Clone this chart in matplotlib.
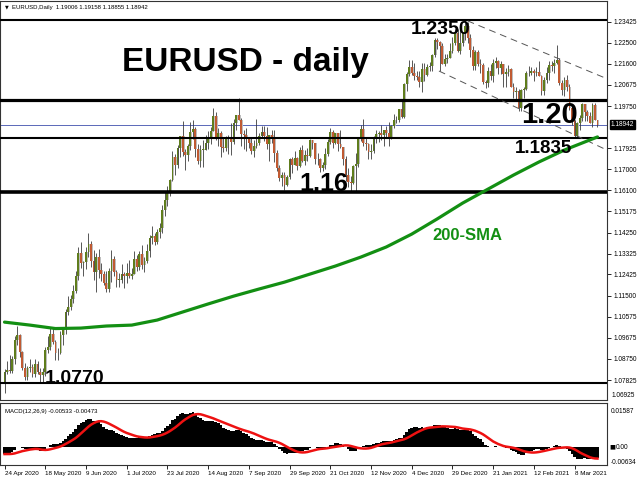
import numpy as np
import matplotlib
matplotlib.use("Agg")
import matplotlib.pyplot as plt
import matplotlib.transforms as mtrans

# daily bars 24 Apr 2020 .. 19 Mar 2021, time axis labelled every 16 bars
date_labels = ['24 Apr 2020', '18 May 2020', '9 Jun 2020', '1 Jul 2020', '23 Jul 2020',
               '14 Aug 2020', '7 Sep 2020', '29 Sep 2020', '21 Oct 2020', '12 Nov 2020',
               '4 Dec 2020', '29 Dec 2020', '21 Jan 2021', '12 Feb 2021', '8 Mar 2021']
label_step = 16

first_open = 1.0775
closes = [
    1.0820, 1.0826, 1.0822, 1.0874, 1.0955, 1.0981, 1.0907, 1.0837, 1.0795, 1.0836,
    1.0839, 1.0809, 1.0851, 1.0817, 1.0805, 1.0820, 1.0915, 1.0925, 1.0985, 1.0950,
    1.0900, 1.0902, 1.0978, 1.1007, 1.1077, 1.1100, 1.1137, 1.1170, 1.1235, 1.1335,
    1.1292, 1.1295, 1.1342, 1.1374, 1.1300, 1.1255, 1.1320, 1.1263, 1.1244, 1.1206,
    1.1178, 1.1258, 1.1309, 1.1251, 1.1220, 1.1220, 1.1243, 1.1234, 1.1250, 1.1237,
    1.1246, 1.1311, 1.1274, 1.1330, 1.1284, 1.1300, 1.1343, 1.1400, 1.1411, 1.1383,
    1.1427, 1.1445, 1.1525, 1.1568, 1.1595, 1.1655, 1.1752, 1.1717, 1.1792, 1.1845,
    1.1777, 1.1762, 1.1800, 1.1864, 1.1877, 1.1788, 1.1737, 1.1786, 1.1786, 1.1813,
    1.1842, 1.1869, 1.1930, 1.1838, 1.1860, 1.1797, 1.1793, 1.1834, 1.1832, 1.1821,
    1.1903, 1.1936, 1.1914, 1.1855, 1.1850, 1.1838, 1.1815, 1.1778, 1.1801, 1.1814,
    1.1845, 1.1863, 1.1845, 1.1812, 1.1848, 1.1839, 1.1769, 1.1705, 1.1662, 1.1675,
    1.1632, 1.1667, 1.1745, 1.1720, 1.1748, 1.1715, 1.1782, 1.1737, 1.1763, 1.1758,
    1.1826, 1.1814, 1.1744, 1.1747, 1.1705, 1.1717, 1.1767, 1.1821, 1.1862, 1.1815,
    1.1860, 1.1811, 1.1796, 1.1746, 1.1675, 1.1645, 1.1640, 1.1715, 1.1725, 1.1830,
    1.1875, 1.1815, 1.1812, 1.1776, 1.1780, 1.1834, 1.1855, 1.1860, 1.1850, 1.1870,
    1.1857, 1.1840, 1.1890, 1.1916, 1.1913, 1.1962, 1.1927, 1.2072, 1.2114, 1.2145,
    1.2121, 1.2107, 1.2102, 1.2079, 1.2136, 1.2110, 1.2145, 1.2150, 1.2196, 1.2265,
    1.2255, 1.2235, 1.2160, 1.2180, 1.2185, 1.2215, 1.2250, 1.2295, 1.2215, 1.2250,
    1.2295, 1.2325, 1.2270, 1.2220, 1.2150, 1.2210, 1.2160, 1.2155, 1.2080, 1.2075,
    1.2130, 1.2105, 1.2165, 1.2170, 1.2140, 1.2160, 1.2115, 1.2125, 1.2135, 1.2060,
    1.2035, 1.2040, 1.1965, 1.2045, 1.2050, 1.2120, 1.2120, 1.2130, 1.2120, 1.2125,
    1.2105, 1.2040, 1.2090, 1.2120, 1.2155, 1.2150, 1.2165, 1.2175, 1.2075, 1.2045,
    1.2090, 1.2060, 1.1965, 1.1915, 1.1845, 1.1900, 1.1925, 1.1985, 1.1950, 1.1930,
    1.1900, 1.1980, 1.1915, 1.1894]
highs = [
    1.0829, 1.0865, 1.0890, 1.0888, 1.0973, 1.1019, 1.0985, 1.0911, 1.0859, 1.0845,
    1.0874, 1.0852, 1.0875, 1.0866, 1.0835, 1.0835, 1.0926, 1.0976, 1.1008, 1.1011,
    1.0958, 1.0922, 1.0995, 1.1012, 1.1092, 1.1147, 1.1155, 1.1198, 1.1257, 1.1362,
    1.1384, 1.1303, 1.1361, 1.1422, 1.1389, 1.1347, 1.1334, 1.1354, 1.1291, 1.1259,
    1.1257, 1.1272, 1.1349, 1.1323, 1.1260, 1.1249, 1.1288, 1.1254, 1.1292, 1.1304,
    1.1270, 1.1346, 1.1327, 1.1344, 1.1371, 1.1320, 1.1375, 1.1413, 1.1452, 1.1423,
    1.1441, 1.1468, 1.1546, 1.1601, 1.1626, 1.1660, 1.1781, 1.1767, 1.1804, 1.1845,
    1.1909, 1.1788, 1.1810, 1.1904, 1.1916, 1.1885, 1.1809, 1.1806, 1.1829, 1.1848,
    1.1865, 1.1883, 1.1966, 1.1951, 1.1882, 1.1867, 1.1837, 1.1844, 1.1851, 1.1902,
    1.1917, 1.1938, 1.2011, 1.1922, 1.1872, 1.1882, 1.1842, 1.1836, 1.1829, 1.1917,
    1.1858, 1.1890, 1.1887, 1.1883, 1.1851, 1.1872, 1.1870, 1.1782, 1.1720, 1.1688,
    1.1688, 1.1677, 1.1749, 1.1754, 1.1778, 1.1752, 1.1797, 1.1806, 1.1782, 1.1791,
    1.1831, 1.1829, 1.1814, 1.1771, 1.1751, 1.1734, 1.1794, 1.1834, 1.1881, 1.1870,
    1.1860, 1.1860, 1.1870, 1.1798, 1.1757, 1.1706, 1.1673, 1.1721, 1.1770, 1.1836,
    1.1891, 1.1920, 1.1839, 1.1815, 1.1812, 1.1844, 1.1873, 1.1869, 1.1891, 1.1873,
    1.1890, 1.1905, 1.1893, 1.1942, 1.1932, 1.1964, 1.2004, 1.2077, 1.2123, 1.2176,
    1.2178, 1.2163, 1.2129, 1.2130, 1.2163, 1.2161, 1.2160, 1.2167, 1.2201, 1.2273,
    1.2272, 1.2260, 1.2250, 1.2200, 1.2200, 1.2250, 1.2276, 1.2310, 1.2310, 1.2310,
    1.2299, 1.2349, 1.2340, 1.2290, 1.2235, 1.2218, 1.2220, 1.2180, 1.2165, 1.2090,
    1.2145, 1.2160, 1.2180, 1.2190, 1.2175, 1.2170, 1.2160, 1.2140, 1.2155, 1.2140,
    1.2075, 1.2060, 1.2050, 1.2050, 1.2060, 1.2130, 1.2150, 1.2145, 1.2135, 1.2145,
    1.2170, 1.2110, 1.2100, 1.2145, 1.2170, 1.2170, 1.2180, 1.2243, 1.2185, 1.2090,
    1.2100, 1.2110, 1.2070, 1.1975, 1.1915, 1.1905, 1.1935, 1.1990, 1.1985, 1.1960,
    1.1950, 1.1990, 1.1990, 1.1916]
lows = [
    1.0727, 1.0809, 1.0812, 1.0812, 1.0853, 1.0937, 1.0882, 1.0826, 1.0783, 1.0782,
    1.0816, 1.0794, 1.0796, 1.0807, 1.0774, 1.0776, 1.0801, 1.0902, 1.0915, 1.0940,
    1.0871, 1.0870, 1.0895, 1.0935, 1.0983, 1.1066, 1.1088, 1.1120, 1.1160, 1.1219,
    1.1270, 1.1235, 1.1265, 1.1319, 1.1275, 1.1218, 1.1168, 1.1227, 1.1212, 1.1197,
    1.1168, 1.1166, 1.1211, 1.1235, 1.1190, 1.1187, 1.1206, 1.1185, 1.1207, 1.1228,
    1.1224, 1.1245, 1.1259, 1.1260, 1.1266, 1.1254, 1.1291, 1.1317, 1.1373, 1.1371,
    1.1377, 1.1403, 1.1422, 1.1495, 1.1540, 1.1586, 1.1651, 1.1677, 1.1704, 1.1755,
    1.1759, 1.1696, 1.1738, 1.1785, 1.1832, 1.1755, 1.1722, 1.1711, 1.1712, 1.1783,
    1.1789, 1.1812, 1.1867, 1.1826, 1.1802, 1.1753, 1.1776, 1.1778, 1.1766, 1.1763,
    1.1812, 1.1870, 1.1913, 1.1803, 1.1789, 1.1781, 1.1793, 1.1765, 1.1752, 1.1791,
    1.1806, 1.1838, 1.1822, 1.1788, 1.1737, 1.1815, 1.1734, 1.1691, 1.1651, 1.1627,
    1.1612, 1.1626, 1.1660, 1.1684, 1.1718, 1.1696, 1.1711, 1.1732, 1.1720, 1.1737,
    1.1752, 1.1789, 1.1725, 1.1719, 1.1688, 1.1694, 1.1703, 1.1759, 1.1812, 1.1795,
    1.1809, 1.1781, 1.1795, 1.1718, 1.1650, 1.1622, 1.1603, 1.1637, 1.1602, 1.1711,
    1.1822, 1.1802, 1.1782, 1.1745, 1.1745, 1.1772, 1.1814, 1.1821, 1.1829, 1.1802,
    1.1841, 1.1800, 1.1830, 1.1881, 1.1900, 1.1904, 1.1923, 1.1924, 1.2040, 1.2107,
    1.2112, 1.2088, 1.2087, 1.2059, 1.2036, 1.2085, 1.2105, 1.2127, 1.2130, 1.2187,
    1.2222, 1.2130, 1.2160, 1.2150, 1.2165, 1.2185, 1.2206, 1.2240, 1.2210, 1.2200,
    1.2239, 1.2265, 1.2250, 1.2190, 1.2132, 1.2132, 1.2150, 1.2120, 1.2070, 1.2055,
    1.2060, 1.2090, 1.2080, 1.2140, 1.2115, 1.2115, 1.2060, 1.2060, 1.2105, 1.2060,
    1.2010, 1.2005, 1.1955, 1.1952, 1.2010, 1.2045, 1.2105, 1.2110, 1.2085, 1.2105,
    1.2105, 1.2025, 1.2025, 1.2075, 1.2090, 1.2130, 1.2120, 1.2160, 1.2065, 1.2025,
    1.2020, 1.2040, 1.1960, 1.1895, 1.1835, 1.1835, 1.1870, 1.1910, 1.1910, 1.1910,
    1.1900, 1.1885, 1.1915, 1.1886]

# 200-day SMA
sma_bars = [0, 10, 20, 30, 40, 50, 60, 70, 80, 90, 100, 110, 120,
            130, 140, 150, 160, 170, 180, 190, 200, 210, 220, 233]
sma_vals = [1.1035, 1.1022, 1.1007, 1.1009, 1.1018, 1.1022, 1.1044, 1.1079,
            1.1114, 1.1148, 1.1179, 1.1209, 1.1244, 1.1279, 1.1318, 1.1362,
            1.1418, 1.1484, 1.1553, 1.1614, 1.1675, 1.1732, 1.1784, 1.1841]

level_prices = [1.2350, 1.2000, 1.1835, 1.1600, 1.0770]
channel_upper = ([182.0, 237.9], [1.2346, 1.2089])
channel_lower = ([170.7, 236.7], [1.2128, 1.1784])

price_ticks = [1.23425, 1.22500, 1.21600, 1.20675, 1.19750, 1.17925, 1.17000,
               1.16100, 1.15175, 1.14250, 1.13325, 1.12425, 1.11500, 1.10575,
               1.09675, 1.08750, 1.07825]
bottom_tick = 1.06925
last_price = 1.18942
macd_top, macd_bottom = 0.01587, -0.00634
# EMA / signal state before the first visible bar
seed_fast, seed_slow, seed_signal = 1.0840, 1.0872, -0.0030

header = "EURUSD,Daily  1.19006 1.19158 1.18855 1.18942"
macd_title = "MACD(12,26,9) -0.00533 -0.00473"

small = dict(family='Liberation Sans', fontsize=4.7)
bold = dict(family='Liberation Sans', fontweight='bold', color='black')

c = np.array(closes)
h = np.array(highs)
l = np.array(lows)
o = np.concatenate([[first_open], c[:-1]])
n = len(c)
idx = np.arange(n)
up = c >= o


def ema(vals, span, seed):
    k = 2.0 / (span + 1)
    out, e = [], seed
    for v in vals:
        e += k * (v - e)
        out.append(e)
    return np.array(out)


macd = ema(c, 12, seed_fast) - ema(c, 26, seed_slow)
signal = np.convolve(np.concatenate([np.full(8, seed_signal), macd]), np.ones(9) / 9, mode='valid')

W, H = 640.0, 480.0


def box(x0, y0, x1, y1):
    return [x0 / W, 1 - y1 / H, (x1 - x0) / W, (y1 - y0) / H]


fig = plt.figure(figsize=(6.4, 4.8), dpi=100)
ax = fig.add_axes(box(0, 1, 607, 400))
am = fig.add_axes(box(0, 403, 607, 465), sharex=ax)

# candles
lo_b = np.minimum(o, c)
hi_b = np.maximum(o, c)
bh = np.maximum(hi_b - lo_b, 0.00008)
ax.bar(idx + 0.5, bh, bottom=lo_b, width=0.5, color='#bdbdbd', lw=0, zorder=2)
ax.vlines(idx, l, h, color='#3c3c3c', lw=0.6, zorder=3)
ax.bar(idx, bh, bottom=lo_b, width=0.7,
       color=np.where(up, '#5f7d1c', '#c05a32'), lw=0, zorder=4)

for p, lw in zip(level_prices, [1.5, 2.3, 1.5, 2.6, 1.5]):
    ax.axhline(p, color='black', lw=lw, zorder=5)
ax.axhline(last_price, color='#5a68b8', lw=0.7, zorder=1)
for xs, ys in (channel_upper, channel_lower):
    ax.plot(xs, ys, color='#555555', lw=0.7, dashes=(7, 5), zorder=5)
ax.plot(sma_bars, sma_vals, color='#138f13', lw=2.3, zorder=6, solid_capstyle='round')

ax.set_xlim(-1.77, 236.74)
ax.set_ylim(1.0696, 1.24327)

ax.text(46.2, 1.2167, 'EURUSD - daily', fontsize=24, va='center', ha='left', zorder=8, **bold)
ax.text(159.5, 1.2290, '1.2350', fontsize=14, zorder=8, **bold)
ax.text(203.0, 1.1900, '1.20', fontsize=21, zorder=8, **bold)
ax.text(200.5, 1.1772, '1.1835', fontsize=13.5, zorder=8, **bold)
ax.text(116.0, 1.1606, '1.16', fontsize=18, zorder=8, **bold)
ax.text(16.0, 1.0772, '1.0770', fontsize=14, zorder=8, **bold)
ax.text(168.0, 1.1414, '200-SMA', fontsize=12, va='center', family='Liberation Sans',
        fontweight='bold', color='#138f13', zorder=8)

# price scale on the right
ax.yaxis.tick_right()
ax.set_yticks(price_ticks)
ax.set_yticklabels([f'{t:.5f}' for t in price_ticks], **small)
ax.tick_params(axis='y', length=3, width=0.6, pad=1.5)
ax.tick_params(axis='x', bottom=False, labelbottom=False)
yt = mtrans.blended_transform_factory(ax.transAxes, ax.transData)
ax.text(1.008, 1.0702, f'{bottom_tick:.5f}', transform=yt, va='bottom', ha='left', **small)
ax.text(1.006, last_price, f'{last_price:.5f}', transform=yt, va='center', ha='left',
        color='white', bbox=dict(boxstyle='square,pad=0.15', fc='black', ec='black'), **small)
fig.text(5 / W, 1 - 7 / H, '\u25bc', fontsize=3.5, va='center', family='DejaVu Sans')
fig.text(12 / W, 1 - 7 / H, header, va='center', family='Liberation Sans', fontsize=4.3)

# MACD window
am.bar(idx, macd, width=1.0, color='black', lw=0)
am.plot(idx, signal, color='#ee1111', lw=1.8)
am.set_ylim(-0.0077, 0.0189)
am.yaxis.tick_right()
am.set_yticks([macd_top, macd_bottom])
am.set_yticklabels([f'{macd_top:.5f}', f'{macd_bottom:.5f}'], **small)
am.tick_params(axis='y', length=0, pad=3)
mt = mtrans.blended_transform_factory(am.transAxes, am.transData)
am.text(1.004, 0, '\u25a0', transform=mt, va='center', ha='left', fontsize=4.5, family='DejaVu Sans')
am.text(1.015, 0, '0.00', transform=mt, va='center', ha='left', **small)
am.text(5 / 607, 0.86, macd_title, transform=am.transAxes, va='center', family='Liberation Sans', fontsize=4.3)

am.set_xticks(idx[::label_step][:len(date_labels)])
am.set_xticklabels(date_labels, ha='left', family='Liberation Sans', fontsize=4.5)
am.tick_params(axis='x', length=3, width=0.6, pad=1)

for a in (ax, am):
    for s in a.spines.values():
        s.set_linewidth(0.8)
        s.set_color('#333333')

fig.savefig('out.png', dpi=100)
